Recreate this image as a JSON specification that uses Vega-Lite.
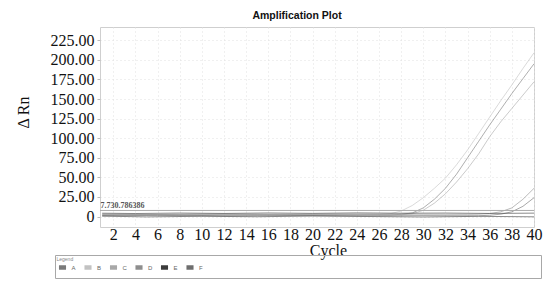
{
  "$schema": "https://vega.github.io/schema/vega-lite/v6.json",
  "width": 434,
  "height": 200,
  "autosize": {"type": "none"},
  "padding": {"left": 100, "top": 27, "right": 16, "bottom": 61},
  "title": {"text": "Amplification Plot", "font": "Liberation Sans", "fontSize": 10.5, "fontWeight": "bold", "color": "#111", "anchor": "middle", "dx": -20, "offset": 6},
  "config": {
    "view": {"stroke": "#cfcfcf"},
    "axis": {"domain": false, "grid": true, "gridColor": "#e0e0e0", "gridDash": [1, 3], "labelOverlap": false}
  },
  "datasets": {
    "curves": [
      {"s": "B1", "sample": "B", "cycle": 1, "rn": 2.2}, {"s": "B1", "sample": "B", "cycle": 5, "rn": 1.8}, {"s": "B1", "sample": "B", "cycle": 10, "rn": 2.4}, {"s": "B1", "sample": "B", "cycle": 15, "rn": 2.0}, {"s": "B1", "sample": "B", "cycle": 20, "rn": 2.3}, {"s": "B1", "sample": "B", "cycle": 24, "rn": 2.0}, {"s": "B1", "sample": "B", "cycle": 26, "rn": 2.5}, {"s": "B1", "sample": "B", "cycle": 27, "rn": 3.5}, {"s": "B1", "sample": "B", "cycle": 28, "rn": 7}, {"s": "B1", "sample": "B", "cycle": 29, "rn": 14}, {"s": "B1", "sample": "B", "cycle": 30, "rn": 24}, {"s": "B1", "sample": "B", "cycle": 31, "rn": 36}, {"s": "B1", "sample": "B", "cycle": 32, "rn": 49}, {"s": "B1", "sample": "B", "cycle": 33, "rn": 66}, {"s": "B1", "sample": "B", "cycle": 34, "rn": 85}, {"s": "B1", "sample": "B", "cycle": 35, "rn": 106}, {"s": "B1", "sample": "B", "cycle": 36, "rn": 127}, {"s": "B1", "sample": "B", "cycle": 37, "rn": 148}, {"s": "B1", "sample": "B", "cycle": 38, "rn": 168}, {"s": "B1", "sample": "B", "cycle": 39, "rn": 189}, {"s": "B1", "sample": "B", "cycle": 40, "rn": 209},
      {"s": "A1", "sample": "A", "cycle": 1, "rn": 1.6}, {"s": "A1", "sample": "A", "cycle": 5, "rn": 2.2}, {"s": "A1", "sample": "A", "cycle": 10, "rn": 1.5}, {"s": "A1", "sample": "A", "cycle": 15, "rn": 2.1}, {"s": "A1", "sample": "A", "cycle": 20, "rn": 1.7}, {"s": "A1", "sample": "A", "cycle": 25, "rn": 2.0}, {"s": "A1", "sample": "A", "cycle": 27, "rn": 2.0}, {"s": "A1", "sample": "A", "cycle": 28, "rn": 2.8}, {"s": "A1", "sample": "A", "cycle": 29, "rn": 4.5}, {"s": "A1", "sample": "A", "cycle": 30, "rn": 11}, {"s": "A1", "sample": "A", "cycle": 31, "rn": 22}, {"s": "A1", "sample": "A", "cycle": 32, "rn": 36}, {"s": "A1", "sample": "A", "cycle": 33, "rn": 54}, {"s": "A1", "sample": "A", "cycle": 34, "rn": 75}, {"s": "A1", "sample": "A", "cycle": 35, "rn": 96}, {"s": "A1", "sample": "A", "cycle": 36, "rn": 117}, {"s": "A1", "sample": "A", "cycle": 37, "rn": 137}, {"s": "A1", "sample": "A", "cycle": 38, "rn": 157}, {"s": "A1", "sample": "A", "cycle": 39, "rn": 176}, {"s": "A1", "sample": "A", "cycle": 40, "rn": 195},
      {"s": "C1", "sample": "C", "cycle": 1, "rn": 2.8}, {"s": "C1", "sample": "C", "cycle": 5, "rn": 2.4}, {"s": "C1", "sample": "C", "cycle": 10, "rn": 3.0}, {"s": "C1", "sample": "C", "cycle": 15, "rn": 2.5}, {"s": "C1", "sample": "C", "cycle": 20, "rn": 2.9}, {"s": "C1", "sample": "C", "cycle": 25, "rn": 2.4}, {"s": "C1", "sample": "C", "cycle": 28, "rn": 2.2}, {"s": "C1", "sample": "C", "cycle": 29, "rn": 3.5}, {"s": "C1", "sample": "C", "cycle": 30, "rn": 8}, {"s": "C1", "sample": "C", "cycle": 31, "rn": 17}, {"s": "C1", "sample": "C", "cycle": 32, "rn": 29}, {"s": "C1", "sample": "C", "cycle": 33, "rn": 44}, {"s": "C1", "sample": "C", "cycle": 34, "rn": 61}, {"s": "C1", "sample": "C", "cycle": 35, "rn": 80}, {"s": "C1", "sample": "C", "cycle": 36, "rn": 102}, {"s": "C1", "sample": "C", "cycle": 37, "rn": 121}, {"s": "C1", "sample": "C", "cycle": 38, "rn": 138}, {"s": "C1", "sample": "C", "cycle": 39, "rn": 155}, {"s": "C1", "sample": "C", "cycle": 40, "rn": 172},
      {"s": "D1", "sample": "D", "cycle": 1, "rn": 3.0}, {"s": "D1", "sample": "D", "cycle": 6, "rn": 2.6}, {"s": "D1", "sample": "D", "cycle": 12, "rn": 3.2}, {"s": "D1", "sample": "D", "cycle": 18, "rn": 2.8}, {"s": "D1", "sample": "D", "cycle": 24, "rn": 3.3}, {"s": "D1", "sample": "D", "cycle": 30, "rn": 2.9}, {"s": "D1", "sample": "D", "cycle": 34, "rn": 2.8}, {"s": "D1", "sample": "D", "cycle": 35, "rn": 3.0}, {"s": "D1", "sample": "D", "cycle": 36, "rn": 3.8}, {"s": "D1", "sample": "D", "cycle": 37, "rn": 6}, {"s": "D1", "sample": "D", "cycle": 38, "rn": 11}, {"s": "D1", "sample": "D", "cycle": 39, "rn": 22}, {"s": "D1", "sample": "D", "cycle": 40, "rn": 36},
      {"s": "F1", "sample": "F", "cycle": 1, "rn": 1.0}, {"s": "F1", "sample": "F", "cycle": 6, "rn": 1.4}, {"s": "F1", "sample": "F", "cycle": 12, "rn": 0.8}, {"s": "F1", "sample": "F", "cycle": 18, "rn": 1.3}, {"s": "F1", "sample": "F", "cycle": 24, "rn": 0.9}, {"s": "F1", "sample": "F", "cycle": 30, "rn": 1.2}, {"s": "F1", "sample": "F", "cycle": 35, "rn": 1.0}, {"s": "F1", "sample": "F", "cycle": 36, "rn": 1.6}, {"s": "F1", "sample": "F", "cycle": 37, "rn": 3}, {"s": "F1", "sample": "F", "cycle": 38, "rn": 6}, {"s": "F1", "sample": "F", "cycle": 39, "rn": 13}, {"s": "F1", "sample": "F", "cycle": 40, "rn": 24},
      {"s": "E1", "sample": "E", "cycle": 1, "rn": 4.2}, {"s": "E1", "sample": "E", "cycle": 4, "rn": 3.8}, {"s": "E1", "sample": "E", "cycle": 8, "rn": 4.4}, {"s": "E1", "sample": "E", "cycle": 12, "rn": 3.9}, {"s": "E1", "sample": "E", "cycle": 16, "rn": 4.5}, {"s": "E1", "sample": "E", "cycle": 20, "rn": 4.0}, {"s": "E1", "sample": "E", "cycle": 24, "rn": 4.6}, {"s": "E1", "sample": "E", "cycle": 28, "rn": 4.2}, {"s": "E1", "sample": "E", "cycle": 32, "rn": 4.4}, {"s": "E1", "sample": "E", "cycle": 36, "rn": 3.9}, {"s": "E1", "sample": "E", "cycle": 40, "rn": 4.3},
      {"s": "E2", "sample": "E", "cycle": 1, "rn": 0.5}, {"s": "E2", "sample": "E", "cycle": 5, "rn": -0.5}, {"s": "E2", "sample": "E", "cycle": 10, "rn": 0.3}, {"s": "E2", "sample": "E", "cycle": 15, "rn": -0.3}, {"s": "E2", "sample": "E", "cycle": 20, "rn": 0.6}, {"s": "E2", "sample": "E", "cycle": 25, "rn": 0.0}, {"s": "E2", "sample": "E", "cycle": 30, "rn": -0.6}, {"s": "E2", "sample": "E", "cycle": 35, "rn": 0.2}, {"s": "E2", "sample": "E", "cycle": 40, "rn": -0.4}
    ],
    "thr": [{"threshold": 7.73, "label": "7.730.786386"}]
  },
  "layer": [
    {
      "data": {"name": "curves"},
      "mark": {"type": "line", "strokeWidth": 1, "opacity": 0.6},
      "encoding": {
        "x": {"field": "cycle", "type": "quantitative", "scale": {"domain": [0.8, 40], "nice": false, "zero": false},
          "axis": {"values": [2, 4, 6, 8, 10, 12, 14, 16, 18, 20, 22, 24, 26, 28, 30, 32, 34, 36, 38, 40], "title": "Cycle", "titleFont": "Liberation Serif", "titleFontSize": 16, "titleFontWeight": "normal", "titleColor": "#111", "titleX": 228, "titleY": 28, "titleBaseline": "alphabetic", "titleAnchor": "middle", "labelFont": "Liberation Serif", "labelFontSize": 16, "labelColor": "#111", "labelPadding": 12, "labelBaseline": "alphabetic", "tickSize": 0, "labelOverlap": false, "labelFlush": false}},
        "y": {"field": "rn", "type": "quantitative", "scale": {"domain": [-13.4, 242], "nice": false, "zero": false},
          "axis": {"values": [0, 25, 50, 75, 100, 125, 150, 175, 200, 225], "labelExpr": "datum.value == 0 ? '0' : format(datum.value, '.2f')", "labelOverlap": false, "labelFont": "Liberation Serif", "labelFontSize": 16, "labelColor": "#111", "labelPadding": 3, "tickSize": 3, "tickColor": "#bbb", "title": "Δ Rn", "titleFont": "Liberation Serif", "titleFontSize": 16, "titleFontWeight": "normal", "titleColor": "#111", "titleX": -77, "titleY": 85, "titleAlign": "center", "titleBaseline": "middle", "titleAngle": 270}},
        "color": {"field": "sample", "type": "nominal",
          "scale": {"domain": ["A", "B", "C", "D", "E", "F"], "range": ["#7a7a7a", "#c2c2c2", "#a8a8a8", "#8e8e8e", "#3c3c3c", "#6e6e6e"]},
          "legend": {"orient": "none", "legendX": -45, "legendY": 228, "direction": "horizontal", "gridAlign": "none", "title": "Legend", "titleFont": "Liberation Sans", "titleFontSize": 5, "titleFontWeight": "normal", "titleColor": "#888", "titlePadding": 0, "padding": 1.5, "strokeColor": "#a8a8a8", "fillColor": "transparent", "symbolType": "stroke", "symbolSize": 50, "symbolStrokeWidth": 4.5, "symbolOpacity": 1, "labelFont": "Liberation Sans", "labelFontSize": 6, "labelColor": "#666", "labelOffset": 3, "columnPadding": -1.5, "labelLimit": 0, "labelExpr": "datum.label == 'F' ? pad(datum.label, 85, '\u2800') : datum.label"}},
        "detail": {"field": "s"}
      }
    },
    {
      "data": {"name": "thr"},
      "mark": {"type": "rule", "color": "#aaa", "strokeWidth": 1},
      "encoding": {"y": {"field": "threshold", "type": "quantitative", "scale": {"domain": [-13.4, 242], "nice": false, "zero": false},
          "axis": {"values": [0, 25, 50, 75, 100, 125, 150, 175, 200, 225], "labelExpr": "datum.value == 0 ? '0' : format(datum.value, '.2f')", "labelOverlap": false, "labelFont": "Liberation Serif", "labelFontSize": 16, "labelColor": "#111", "labelPadding": 3, "tickSize": 3, "tickColor": "#bbb", "title": "Δ Rn", "titleFont": "Liberation Serif", "titleFontSize": 16, "titleFontWeight": "normal", "titleColor": "#111", "titleX": -77, "titleY": 85, "titleAlign": "center", "titleBaseline": "middle", "titleAngle": 270}}}
    },
    {
      "data": {"name": "thr"},
      "mark": {"type": "text", "align": "left", "baseline": "bottom", "font": "Liberation Serif", "fontSize": 8, "fontWeight": "bold", "color": "#555", "dx": 0.5, "dy": -0.5},
      "encoding": {
        "x": {"datum": 0.8, "type": "quantitative", "scale": {"domain": [0.8, 40], "nice": false, "zero": false},
          "axis": {"values": [2, 4, 6, 8, 10, 12, 14, 16, 18, 20, 22, 24, 26, 28, 30, 32, 34, 36, 38, 40], "title": "Cycle", "titleFont": "Liberation Serif", "titleFontSize": 16, "titleFontWeight": "normal", "titleColor": "#111", "titleX": 228, "titleY": 28, "titleBaseline": "alphabetic", "titleAnchor": "middle", "labelFont": "Liberation Serif", "labelFontSize": 16, "labelColor": "#111", "labelPadding": 12, "labelBaseline": "alphabetic", "tickSize": 0, "labelOverlap": false, "labelFlush": false}},
        "y": {"field": "threshold", "type": "quantitative", "scale": {"domain": [-13.4, 242], "nice": false, "zero": false},
          "axis": {"values": [0, 25, 50, 75, 100, 125, 150, 175, 200, 225], "labelExpr": "datum.value == 0 ? '0' : format(datum.value, '.2f')", "labelOverlap": false, "labelFont": "Liberation Serif", "labelFontSize": 16, "labelColor": "#111", "labelPadding": 3, "tickSize": 3, "tickColor": "#bbb", "title": "Δ Rn", "titleFont": "Liberation Serif", "titleFontSize": 16, "titleFontWeight": "normal", "titleColor": "#111", "titleX": -77, "titleY": 85, "titleAlign": "center", "titleBaseline": "middle", "titleAngle": 270}},
        "text": {"field": "label"}
      }
    }
  ]
}
